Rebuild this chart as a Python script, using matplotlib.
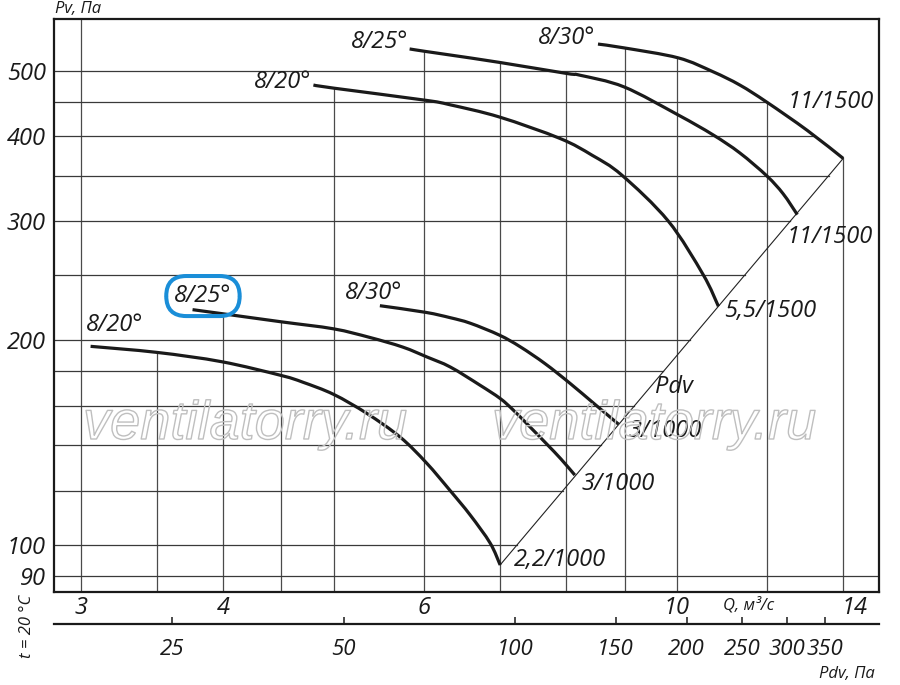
import numpy as np
import matplotlib
matplotlib.use('Agg')
import matplotlib.pyplot as plt
from matplotlib import patheffects as pe
from matplotlib.path import Path
from matplotlib.patches import PathPatch
from matplotlib.ticker import NullLocator
from matplotlib.transforms import ScaledTranslation

plt.rcParams['font.family'] = ['Open Sans', 'DejaVu Sans']
plt.rcParams['font.style'] = 'italic'

# fan curves, Q [m3/s] -> Pv [Pa]
# n = 1000 rpm
q_20_1000 = [3.06, 3.50, 3.99, 4.50, 4.70, 5.00, 5.35, 5.72, 6.03, 6.33, 6.59, 6.86, 7.00]
pv_20_1000 = [196, 192, 186, 177.5, 173.5, 166.5, 156, 144, 132, 120, 110.5, 100.5, 93.3]
q_25_1000 = [3.76, 3.99, 4.50, 5.00, 5.38, 5.75, 6.04, 6.33, 6.72, 7.0, 7.19, 7.435, 7.69, 7.915, 8.14]
pv_25_1000 = [222, 219, 213, 208, 202, 195.5, 189, 182.7, 171.8, 164.2, 157.8, 149.1, 140.7, 133.7, 126.6]
q_30_1000 = [5.49, 6.02, 6.33, 6.59, 6.99, 7.29, 7.665, 8.06, 8.48, 8.89]
pv_30_1000 = [225, 220, 216, 212, 203.6, 195.7, 184.8, 172.9, 160.9, 150.5]
# n = 1500 rpm
q_20_1500 = [4.80, 5.00, 6.02, 6.33, 6.99, 7.90, 8.43, 8.95, 9.83, 10.55, 10.88]
pv_20_1500 = [476, 471, 452, 445, 427, 397, 375, 350.6, 300, 250, 224.5]
q_25_1500 = [5.83, 6.02, 6.33, 6.99, 8.01, 8.23, 8.99, 10.03, 10.76, 11.36, 12.0, 12.4, 12.76]
pv_25_1500 = [538, 533.5, 527, 514, 495, 492, 473, 430, 402, 378, 349.5, 329, 306.5]
q_30_1500 = [8.53, 8.99, 10.03, 10.76, 11.36, 12.0, 13.02, 14.0]
pv_30_1500 = [547, 540, 522, 498, 476, 449, 408, 371]

curves = [(q_20_1000, pv_20_1000), (q_25_1000, pv_25_1000), (q_30_1000, pv_30_1000),
          (q_20_1500, pv_20_1500), (q_25_1500, pv_25_1500), (q_30_1500, pv_30_1500)]

# Pdv line through the curve ends
diag_q = [7.0, 14.0]
diag_pv = [93.3, 371]

# dynamic pressure scale  Pdv = k * Q^2
k_pdv = 1.92

q_grid = [3, 3.5, 4, 4.5, 5, 6, 7, 8, 9, 10, 12, 14]
pv_grid = [90, 100, 120, 140, 160, 180, 200, 250, 300, 350, 400, 450, 500]
q_ticks = [3, 4, 6, 10, 14]
pv_ticks = [90, 100, 200, 300, 400, 500]
pdv_ticks = [25, 50, 100, 150, 200, 250, 300, 350]

angle_labels = [('8/20°', 3.21, 211), ('8/25°', 3.84, 232.5), ('8/30°', 5.42, 235),
                ('8/20°', 4.51, 481), ('8/25°', 5.49, 551), ('8/30°', 8.0, 558)]
motor_labels = [('2,2/1000', 7.90, 95), ('3/1000', 8.88, 122.8), ('3/1000', 9.77, 147),
                ('5,5/1500', 12.08, 221), ('11/1500', 13.63, 284), ('11/1500', 13.66, 449)]

xmin, xmax = 2.842, 15.05
ymin, ymax = 85.2, 595.6

fig = plt.figure(figsize=(9, 6.85), dpi=100)
ax = fig.add_axes([54/900, 1-591.7/685, 825/900, 572.7/685])
ax.set_xscale('log')
ax.set_yscale('log')
ax.set_xlim(xmin, xmax)
ax.set_ylim(ymin, ymax)

all_lines = curves + [(diag_q, diag_pv)]


def top_of(q):
    tops = []
    for cq, cp in all_lines:
        if cq[0] - 1e-6 <= q <= cq[-1] + 1e-6:
            tops.append(10**np.interp(np.log10(q), np.log10(cq), np.log10(cp)))
    return max(tops) if tops else ymax


def right_of(p):
    rights = []
    for cq, cp in all_lines:
        lq, lp = np.log10(cq), np.log10(cp)
        if lp.argmax() < lp.argmin():
            lq, lp = lq[::-1], lp[::-1]
        if lp[0] - 1e-6 <= np.log10(p) <= lp[-1] + 1e-6:
            rights.append(10**np.interp(np.log10(p), lp, lq))
    return max(rights) if rights else xmax


def smooth_path(q, p):
    # Catmull-Rom through the read points, as cubic Bezier in log-log space
    pts = np.column_stack([np.log10(q), np.log10(p)])
    verts, codes = [pts[0]], [Path.MOVETO]
    n = len(pts)
    for i in range(n - 1):
        p0 = pts[max(i - 1, 0)]
        p1, p2 = pts[i], pts[i + 1]
        p3 = pts[min(i + 2, n - 1)]
        verts += [p1 + (p2 - p0) / 6, p2 - (p3 - p1) / 6, p2]
        codes += [Path.CURVE4] * 3
    return Path(10**np.array(verts), codes)


for q in q_grid:
    ax.plot([q, q], [ymin, top_of(q)], color='#4a4a4a', lw=0.9, zorder=1)
for p in pv_grid:
    ax.plot([xmin, right_of(p)], [p, p], color='#3a3a3a', lw=0.9, zorder=1)

ax.plot(diag_q, diag_pv, color='#222222', lw=0.8, zorder=3)
for cq, cp in curves:
    ax.add_patch(PathPatch(smooth_path(cq, cp), fill=False, ec='#1a1a1a', lw=2.3,
                           capstyle='butt', zorder=4))

fs = 17
for i, (txt, x, y) in enumerate(angle_labels):
    kw = {}
    if i == 1:
        kw['bbox'] = dict(boxstyle='round,pad=0.34,rounding_size=0.85', fc='none',
                          ec='#1a8ed8', lw=2.9)
    ax.text(x, y, txt, fontsize=fs, ha='center', va='center', color='#1a1a1a', zorder=5, **kw)
for txt, x, y in motor_labels:
    ax.text(x, y, txt, fontsize=fs, ha='center', va='center', color='#1a1a1a', zorder=5)
ax.text(9.95, 171, 'Pdv', fontsize=fs, ha='center', va='center', color='#1a1a1a', zorder=5)

# watermark
for xc in (245, 654):
    fig.text(xc/900, 1-439/685, 'ventilatorry.ru', fontsize=39, ha='center', va='baseline',
             family=['Liberation Sans'], color='none', zorder=2,
             path_effects=[pe.Stroke(linewidth=1.0, foreground='#bfbfbf')])

for s in ax.spines.values():
    s.set_linewidth(1.6)
    s.set_color('#1a1a1a')

ax.xaxis.set_minor_locator(NullLocator())
ax.yaxis.set_minor_locator(NullLocator())
ax.set_xticks(q_ticks, [str(v) for v in q_ticks])
ax.set_yticks(pv_ticks, [str(v) for v in pv_ticks])
ax.tick_params(axis='both', length=0, labelsize=fs, colors='#1a1a1a')
ax.tick_params(axis='x', pad=3)
ax.tick_params(axis='y', pad=6)
lbl14 = ax.xaxis.get_major_ticks()[-1].label1
lbl14.set_transform(lbl14.get_transform() + ScaledTranslation(8/72, 0, fig.dpi_scale_trans))

sec = ax.secondary_xaxis(-32.6/572.7, functions=(lambda q: k_pdv*np.asarray(q)**2,
                                                  lambda p: np.sqrt(np.maximum(p, 1e-9)/k_pdv)))
sec.set_xticks(pdv_ticks, [str(v) for v in pdv_ticks])
sec.xaxis.set_minor_locator(NullLocator())
sec.spines['bottom'].set_linewidth(1.6)
sec.spines['bottom'].set_color('#1a1a1a')
sec.tick_params(axis='x', direction='in', length=5, width=1.1, pad=10.5, labelsize=16,
                colors='#1a1a1a')

sm = 12
fig.text(55/900, 1-9/685, 'Pv, Па', fontsize=sm, ha='left', va='center', color='#1a1a1a')
fig.text(749/900, 1-605/685, 'Q, м³/с', fontsize=sm, ha='center', va='center', color='#1a1a1a')
fig.text(847/900, 1-674/685, 'Pdv, Па', fontsize=sm, ha='center', va='center', color='#1a1a1a')
fig.text(27/900, 1-626/685, 't = 20 °C', fontsize=sm, ha='center', va='center', rotation=90,
         color='#1a1a1a')

fig.savefig('out.png', dpi=100)
